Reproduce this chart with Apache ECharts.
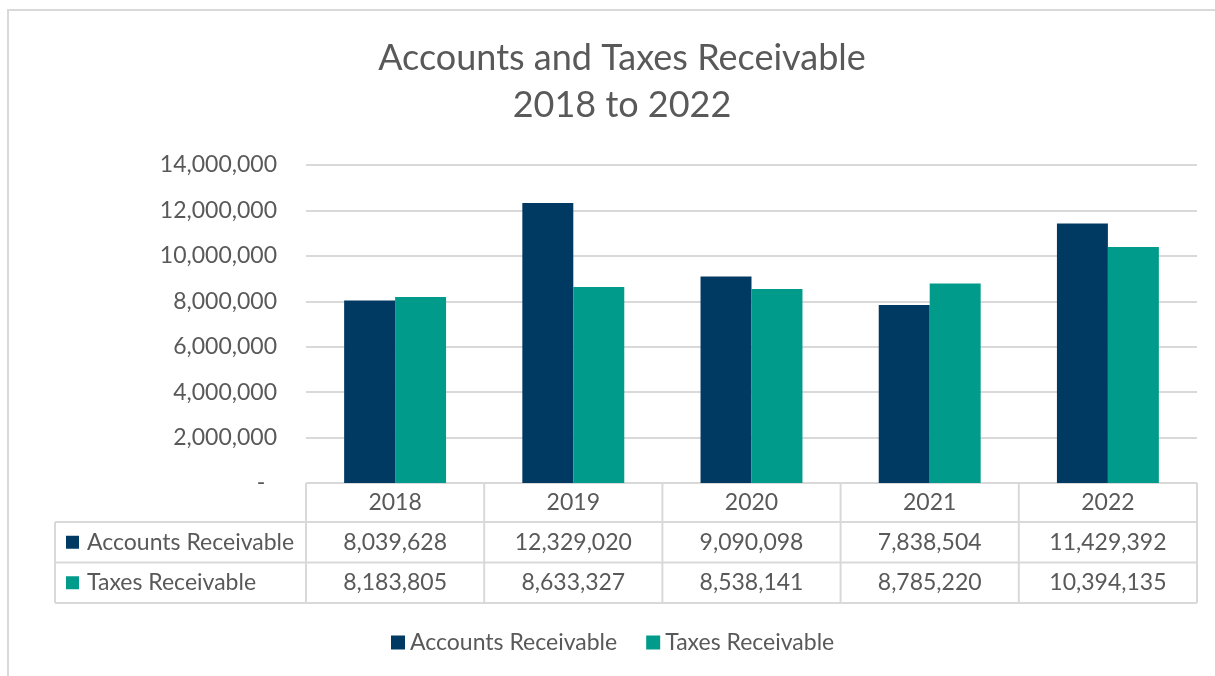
<!DOCTYPE html>
<html>
<head>
<meta charset="utf-8">
<script src="https://cdn.jsdelivr.net/npm/echarts@6/dist/echarts.min.js"></script>
<style>
  html, body { margin: 0; padding: 0; background: #fff; }
  #main { width: 1215px; height: 676px; }
</style>
</head>
<body>
<div id="main"></div>
<script>
var years = ['2018', '2019', '2020', '2021', '2022'];
var accounts = [8039628, 12329020, 9090098, 7838504, 11429392];
var taxes = [8183805, 8633327, 8538141, 8785220, 10394135];
var seriesNames = ['Accounts Receivable', 'Taxes Receivable'];
var colors = ['#003a63', '#009b8a'];

var chartDom = document.getElementById('main');
var myChart = echarts.init(chartDom);

var FONT = 'Lato';
var TXT = '#595959';
var LINE = '#d9d9d9';
var FS = 23;

// plot box
var gLeft = 306, gRight = 1197, gTop = 165, gBottom = 483;
var rowH = 40.5;

function fmt(v) {
    return v.toLocaleString('en-US');
}

// data table under the axis, built from the arrays
function tableGraphic() {
    var els = [];
    var colW = (gRight - gLeft) / years.length;
    var y0 = gBottom, y1 = gBottom + 39, y2 = y1 + rowH, y3 = y2 + rowH;
    var tabLeft = 55;
    function line(x1, ya, x2, yb) {
        els.push({ type: 'line', shape: { x1: x1, y1: ya, x2: x2, y2: yb }, style: { stroke: LINE, lineWidth: 2 }, silent: true });
    }
    line(gLeft, y0, gRight, y0);
    line(tabLeft, y1, gRight, y1);
    line(tabLeft, y2, gRight, y2);
    line(tabLeft, y3, gRight, y3);
    line(tabLeft, y1, tabLeft, y3);
    for (var i = 0; i <= years.length; i++) {
        line(gLeft + i * colW, y0, gLeft + i * colW, y3);
    }
    var rows = [accounts, taxes];
    var rowY = [(y1 + y2) / 2, (y2 + y3) / 2];
    rows.forEach(function (vals, r) {
        els.push({ type: 'rect', shape: { x: 66, y: rowY[r] - 6.5, width: 13, height: 13 }, style: { fill: colors[r] }, silent: true });
        els.push({ type: 'text', x: 87, y: rowY[r], style: { text: seriesNames[r], fill: TXT, font: FS + 'px ' + FONT, textAlign: 'left', textVerticalAlign: 'middle' }, silent: true });
        vals.forEach(function (v, i) {
            els.push({ type: 'text', x: gLeft + (i + 0.5) * colW, y: rowY[r], style: { text: fmt(v), fill: TXT, font: FS + 'px ' + FONT, textAlign: 'center', textVerticalAlign: 'middle' }, silent: true });
        });
    });
    // outer chart border
    els.push({ type: 'rect', shape: { x: 8, y: 10, width: 1215, height: 700 }, style: { fill: 'none', stroke: LINE, lineWidth: 2 }, silent: true, z: -1 });
    return els;
}

var option = {
    backgroundColor: '#fff',
    animation: false,
    title: {
        text: 'Accounts and Taxes Receivable\n2018 to 2022',
        left: 617,
        textAlign: 'center',
        top: 30,
        textStyle: { color: TXT, fontFamily: FONT, fontSize: 36, fontWeight: 'normal', lineHeight: 47 }
    },
    legend: {
        data: seriesNames,
        left: 386,
        top: 626,
        icon: 'rect',
        itemWidth: 14,
        itemHeight: 14,
        itemGap: 29,
        itemTextGap: 7,
        textStyle: { color: TXT, fontFamily: FONT, fontSize: FS }
    },
    grid: { left: gLeft, right: 1215 - gRight, top: gTop, bottom: 676 - gBottom },
    xAxis: {
        type: 'category',
        data: years,
        axisLine: { show: false },
        axisTick: { show: false },
        axisLabel: { color: TXT, fontFamily: FONT, fontSize: FS, margin: 8 }
    },
    yAxis: {
        type: 'value',
        min: 0,
        max: 14000000,
        interval: 2000000,
        axisLine: { show: false },
        axisTick: { show: false },
        splitLine: { lineStyle: { color: LINE, width: 2 } },
        axisLabel: {
            color: TXT, fontFamily: FONT, fontSize: FS, margin: 29,
            formatter: function (v) { return v === 0 ? '-  ' : fmt(v); }
        }
    },
    series: [
        { name: seriesNames[0], type: 'bar', data: accounts, itemStyle: { color: colors[0] }, barWidth: '28.6%', barGap: '0%' },
        { name: seriesNames[1], type: 'bar', data: taxes, itemStyle: { color: colors[1] }, barWidth: '28.6%', barGap: '0%' }
    ],
    graphic: tableGraphic()
};

option && myChart.setOption(option);
</script>
</body>
</html>
